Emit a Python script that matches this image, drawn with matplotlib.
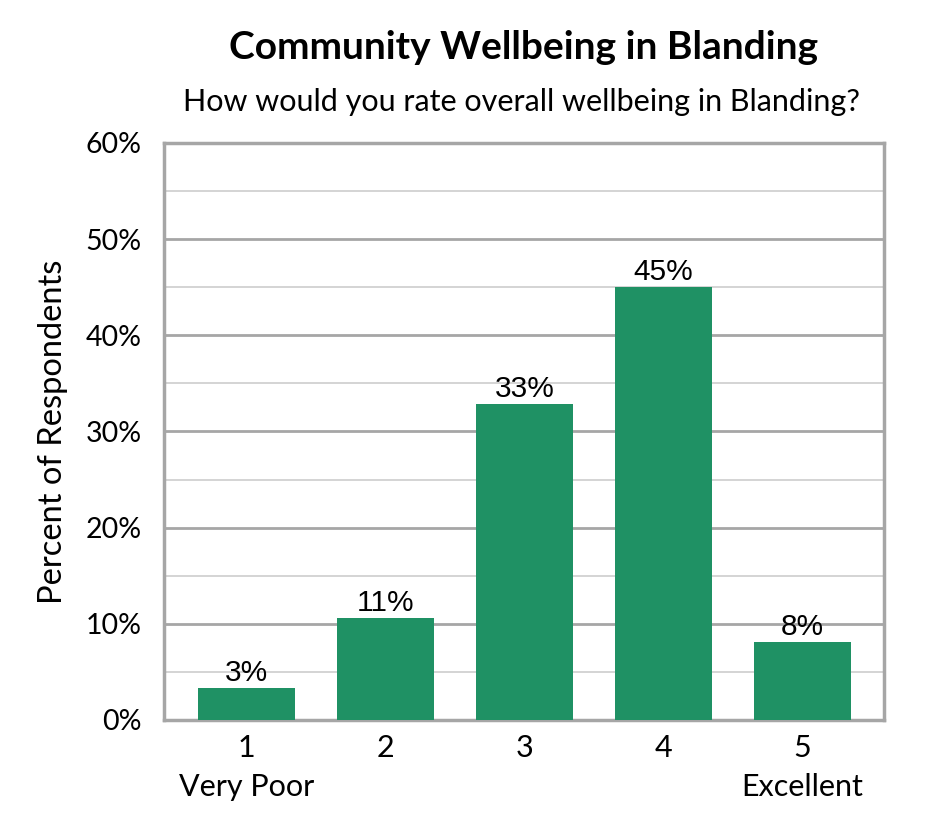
import numpy as np
import matplotlib
matplotlib.use("Agg")
import matplotlib.pyplot as plt
from matplotlib.ticker import MultipleLocator, FuncFormatter

ratings = ["1\nVery Poor", "2", "3", "4", "5\nExcellent"]
percents = [3.3, 10.6, 32.9, 45.0, 8.1]
labels = ["3%", "11%", "33%", "45%", "8%"]

green = "#1f9164"
gray_major = "#a6a6a6"
gray_minor = "#d4d4d4"

fig = plt.figure(figsize=(9.45, 8.4), dpi=100)
ax = fig.add_axes([0.1735, 0.1429, 0.762, 0.687])

x = np.arange(len(ratings))
bars = ax.bar(x, percents, width=0.70, color=green, zorder=3)

ax.set_xlim(-0.594, 4.586)
ax.set_ylim(0, 60)
ax.yaxis.set_major_locator(MultipleLocator(10))
ax.yaxis.set_minor_locator(MultipleLocator(5))
ax.yaxis.set_major_formatter(FuncFormatter(lambda v, p: "%d%%" % v))
ax.grid(axis="y", which="major", color=gray_major, lw=2, zorder=0)
ax.grid(axis="y", which="minor", color=gray_minor, lw=1.4, zorder=0)

for s in ax.spines.values():
    s.set_color(gray_major)
    s.set_linewidth(2.5)

ax.set_xticks(x)
ax.set_xticklabels(ratings, fontfamily="Lato", fontsize=22, linespacing=1.5)
ax.tick_params(axis="x", length=0, pad=10)
ax.tick_params(axis="y", which="both", length=0, pad=16, labelsize=20.5)
for t in ax.get_yticklabels():
    t.set_fontfamily("Lato")

for b, lab in zip(bars, labels):
    ax.text(b.get_x() + b.get_width() / 2, b.get_height() + 0.1, lab,
            ha="center", va="bottom", fontsize=21.5, fontfamily="Liberation Sans", zorder=4)

ax.set_ylabel("Percent of Respondents", fontfamily="Lato", fontsize=23.5, labelpad=13)

fig.text(0.5545, 0.943, "Community Wellbeing in Blanding", ha="center", va="center",
         fontfamily="Lato", fontweight="bold", fontsize=28)
fig.text(0.552, 0.878, "How would you rate overall wellbeing in Blanding?", ha="center", va="center",
         fontfamily="Lato", fontsize=22)

fig.savefig("out.png", dpi=100)
